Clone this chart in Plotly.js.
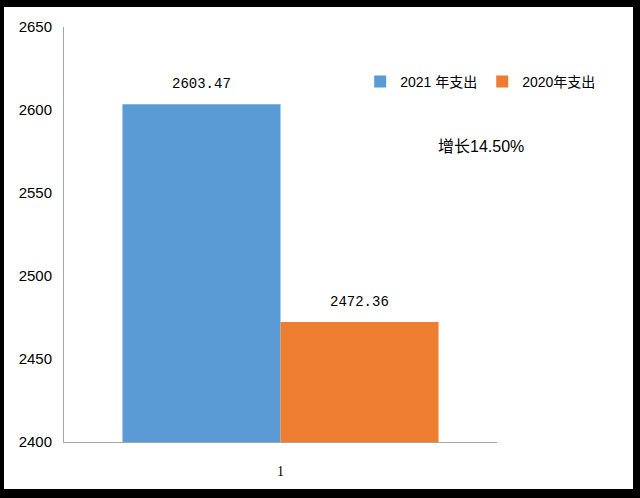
<!DOCTYPE html>
<html>
<head>
<meta charset="utf-8">
<script src="https://cdn.plot.ly/plotly-3.0.1.min.js"></script>
<style>
html,body{margin:0;padding:0;background:#000;width:640px;height:498px;overflow:hidden;}
#chart{position:absolute;left:4px;top:7px;width:629px;height:482px;background:#fff;}
</style>
</head>
<body>
<div id="chart"></div>
<script>
const categories = ['1'];
const seriesNames = ['2021 年支出', '2020年支出'];
const values2021 = [2603.47];
const values2020 = [2472.36];
const valueLabels2021 = ['2603.47'];
const valueLabels2020 = ['2472.36'];
const yTicks = [2400, 2450, 2500, 2550, 2600, 2650];
const growthNote = '增长14.50%';

const colors = ['#5B9BD5', '#ED7D31'];
const sansFont = 'Liberation Sans, Arial, Noto Sans CJK SC, sans-serif';
const monoFont = 'Liberation Mono, DejaVu Sans Mono, monospace';

const traces = [
  {type:'bar', name:seriesNames[0], x:categories, y:values2021, marker:{color:colors[0]}, hoverinfo:'none'},
  {type:'bar', name:seriesNames[1], x:categories, y:values2020, marker:{color:colors[1]}, hoverinfo:'none'}
];

const annotations = [];
categories.forEach((c, i) => {
  annotations.push({x:i, y:values2021[i], xref:'x', yref:'y', text:valueLabels2021[i], showarrow:false,
    xshift:-79, yshift:20, yanchor:'middle', font:{family:monoFont, size:14, color:'#000'}});
  annotations.push({x:i, y:values2020[i], xref:'x', yref:'y', text:valueLabels2020[i], showarrow:false,
    xshift:79, yshift:20, yanchor:'middle', font:{family:monoFont, size:14, color:'#000'}});
});
annotations.push({x:0.963, y:0.711, xref:'paper', yref:'paper', text:growthNote, showarrow:false,
  xanchor:'center', yanchor:'middle', font:{family:sansFont, size:16, color:'#000'}});

const layout = {
  width:629, height:482,
  margin:{l:60, r:136, t:20, b:47},
  paper_bgcolor:'#fff', plot_bgcolor:'#fff',
  barmode:'group', bargap:0.27, bargroupgap:0,
  showlegend:true,
  legend:{orientation:'h', x:0.684, y:0.906, xanchor:'left', yanchor:'top',
    font:{family:sansFont, size:14, color:'#000'}, itemwidth:30, bgcolor:'rgba(0,0,0,0)'},
  xaxis:{type:'category', range:[-0.5, 0.5], showline:true, linecolor:'#a6a6a6', linewidth:1, showgrid:false, ticks:'',
    zeroline:false, tickfont:{family:'Liberation Serif, serif', size:14, color:'#000'}, ticklabelstandoff:16},
  yaxis:{range:[2400,2650], tickvals:yTicks, ticktext:yTicks.map(String), showline:true, linecolor:'#a6a6a6',
    linewidth:1, showgrid:false, ticks:'', zeroline:false,
    tickfont:{family:sansFont, size:15, color:'#000'}, ticklabelstandoff:8},
  annotations:annotations
};

Plotly.newPlot('chart', traces, layout, {staticPlot:true, displayModeBar:false});
</script>
</body>
</html>
